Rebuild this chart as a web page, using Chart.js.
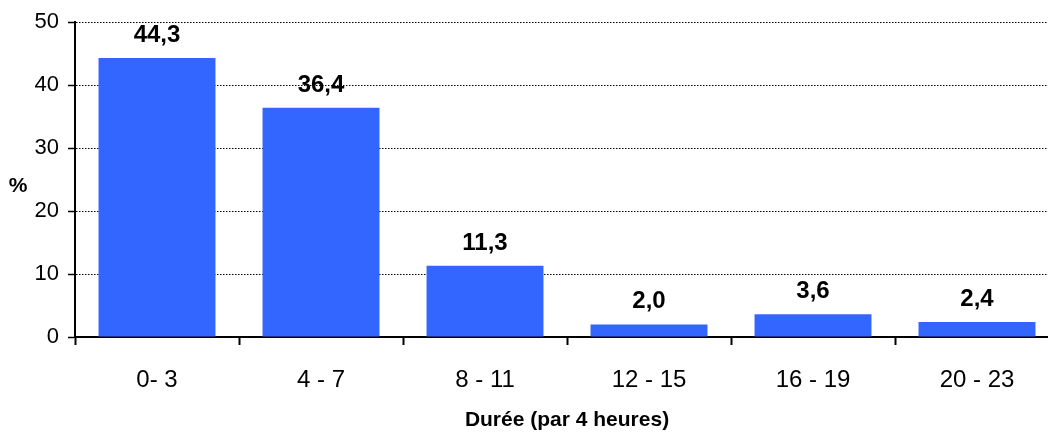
<!DOCTYPE html>
<html>
<head>
<meta charset="utf-8">
<script src="https://cdn.jsdelivr.net/npm/chart.js@4/dist/chart.umd.min.js"></script>
<style>
  html, body { margin: 0; padding: 0; background: #fff; overflow: hidden; }
  #wrap { width: 1059px; height: 434px; position: relative; }
</style>
</head>
<body>
<div id="wrap"><canvas id="dureeChart"></canvas></div>
<script>
var categories = ["0- 3", "4 - 7", "8 - 11", "12 - 15", "16 - 19", "20 - 23"];
var percentValues = [44.3, 36.4, 11.3, 2.0, 3.6, 2.4];
var yTicks = [0, 10, 20, 30, 40, 50];
var xTitle = "Durée (par 4 heures)";
var yTitle = "%";

var fontFamily = "'Liberation Sans', Arial, sans-serif";

// data labels above bars, french decimal comma
var valueLabels = {
    id: "valueLabels",
    afterDatasetsDraw: function (chart) {
        var ctx = chart.ctx;
        var meta = chart.getDatasetMeta(0);
        ctx.save();
        ctx.font = "bold 24px " + fontFamily;
        ctx.fillStyle = "#000";
        ctx.textAlign = "center";
        ctx.textBaseline = "alphabetic";
        meta.data.forEach(function (bar, i) {
            var txt = percentValues[i].toFixed(1).replace(".", ",");
            ctx.fillText(txt, bar.x, bar.y - 16);
        });
        ctx.restore();
    }
};

// horizontal "%" title on the left
var yAxisTitle = {
    id: "yAxisTitle",
    afterDraw: function (chart) {
        var ctx = chart.ctx;
        ctx.save();
        ctx.font = "bold 21px " + fontFamily;
        ctx.fillStyle = "#000";
        ctx.textAlign = "center";
        ctx.textBaseline = "middle";
        ctx.fillText(yTitle, 18, 186);
        ctx.restore();
    }
};

var ctx = document.getElementById("dureeChart").getContext("2d");
var dureeChart = new Chart(ctx, {
    type: "bar",
    data: {
        labels: categories,
        datasets: [{
            data: percentValues,
            backgroundColor: "#3366FF",
            borderWidth: 0,
            barPercentage: 0.713,
            categoryPercentage: 1.0
        }]
    },
    options: {
        responsive: true,
        maintainAspectRatio: false,
        animation: false,
        layout: { padding: { top: 20, left: 0, right: 0, bottom: 0 } },
        plugins: {
            legend: { display: false },
            tooltip: { enabled: false }
        },
        scales: {
            x: {
                grid: {
                    offset: true,
                    drawOnChartArea: false,
                    drawTicks: true,
                    tickLength: 8,
                    tickColor: "#000",
                    tickWidth: 2
                },
                border: { display: true, color: "#000", width: 2 },
                ticks: {
                    color: "#000",
                    padding: 21,
                    maxRotation: 0,
                    font: { family: fontFamily, size: 24 }
                },
                title: {
                    display: true,
                    text: xTitle,
                    color: "#000",
                    font: { family: fontFamily, size: 21, weight: "bold" },
                    padding: { top: 0, bottom: 1 }
                },
                afterFit: function (scale) { scale.height = 97; }
            },
            y: {
                min: 0,
                max: 50,
                afterBuildTicks: function (scale) {
                    scale.ticks = yTicks.map(function (v) { return { value: v }; });
                },
                grid: {
                    color: "#000",
                    lineWidth: 1,
                    drawTicks: true,
                    tickLength: 7,
                    tickColor: "#000",
                    tickWidth: 1.5,
                    tickBorderDash: []
                },
                border: { display: true, color: "#000", width: 2, dash: [1.5, 1.5] },
                ticks: {
                    color: "#000",
                    padding: 9,
                    font: { family: fontFamily, size: 22 }
                },
                afterFit: function (scale) { scale.width = 75; }
            }
        }
    },
    plugins: [valueLabels, yAxisTitle]
});
</script>
</body>
</html>
